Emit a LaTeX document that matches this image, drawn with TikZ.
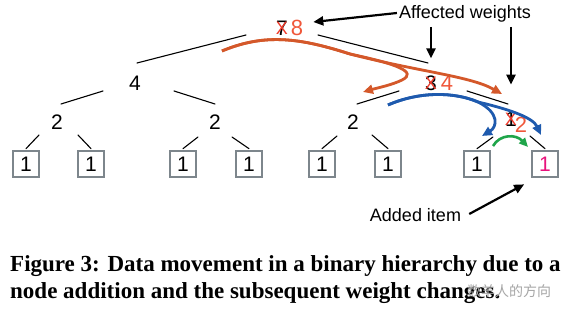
\documentclass[tikz,border=0pt]{standalone}
\usepackage{fontspec}
\setmainfont{Liberation Sans}
\newfontfamily\capfont{Liberation Serif}
\newfontfamily\cjkfont{Noto Sans CJK SC}
\usetikzlibrary{arrows.meta,calc}
\definecolor{newc}{HTML}{F0573A}
\definecolor{xred}{HTML}{F03A2A}
\definecolor{orangec}{HTML}{D4582A}
\definecolor{bluec}{HTML}{1E5AAE}
\definecolor{greenc}{HTML}{1FA54A}
\definecolor{pinkc}{HTML}{E8127C}
\definecolor{boxgray}{HTML}{7D868C}
\tikzset{
  dig/.style={font=\fontsize{21}{21}\selectfont, inner sep=0pt},
  newdig/.style={font=\fontsize{22}{22}\selectfont, inner sep=0pt, text=newc},
  xmark/.style={font=\fontsize{18}{18}\selectfont, inner sep=0pt, text=xred},
  leaf/.style={draw=boxgray, line width=2.2pt, minimum width=25.5pt, minimum height=26.5pt, inner sep=0pt, font=\fontsize{21}{21}\selectfont},
  edge/.style={line width=1.1pt, line cap=round},
  orarrow/.style={draw=orangec, line width=2.8pt, -{Triangle[length=10pt,width=9pt]}},
  blarrow/.style={draw=bluec, line width=2.8pt, -{Triangle[length=10pt,width=9pt]}},
  grarrow/.style={draw=greenc, line width=2.6pt, -{Triangle[length=9pt,width=8pt]}},
  bkarrow/.style={draw=black, line width=2.2pt, -{Triangle[length=10pt,width=9pt]}},
  lbl/.style={font=\fontsize{18}{18}\selectfont, inner sep=0pt},
  captext/.style={font=\capfont\bfseries\fontsize{23}{23}\selectfont, inner sep=0pt, anchor=base west}
}
\begin{document}
\begin{tikzpicture}[x=1pt,y=-1pt]
\useasboundingbox[fill=white] (0,0) rectangle (574,312);
% root
\node[dig] (r) at (282,28) {7};
\node[xmark] at (r) {X};
\node[newdig] (r2) at (297,28) {8};
% level 1
\node[dig] (a) at (135,83) {4};
\node[dig] (b) at (431,83) {3};
\node[xmark] at (b) {X};
\node[newdig] (b2) at (447,83) {4};
% level 2
\node[dig] (c1) at (57,122) {2};
\node[dig] (c2) at (215,122) {2};
\node[dig] (c3) at (353,122) {2};
\node[dig] (c4) at (511,119) {1};
\node[xmark] at (c4) {X};
\node[newdig] (c42) at (521,125) {2};
% leaves
\node[leaf] (l1) at (26,164) {1};
\node[leaf] (l2) at (91,164) {1};
\node[leaf] (l3) at (183,164) {1};
\node[leaf] (l4) at (249,164) {1};
\node[leaf] (l5) at (322,164) {1};
\node[leaf] (l6) at (388,164) {1};
\node[leaf] (l7) at (477,164) {1};
\node[leaf, text=pinkc] (l8) at (545,164) {1};
% edges
\draw[edge] ($(r)+(-36,7)$) -- ($(a)+(2,-20)$);
\draw[edge] ($(r)+(36,7)$) -- ($(b)+(-3,-20)$);
\draw[edge] ($(a)+(-32,8)$) -- ($(c1)+(4,-18)$);
\draw[edge] ($(a)+(39,8)$) -- ($(c2)+(0,-18)$);
\draw[edge] ($(b)+(-32,8)$) -- ($(c3)+(4,-18)$);
\draw[edge] ($(b)+(36,8)$) -- ($(c4)+(-3,-15)$);
\draw[edge] ($(c1)+(-18,13)$) -- ($(l1.north)+(0,-1)$);
\draw[edge] ($(c1)+(21,13)$) -- ($(l2.north)+(0,-1)$);
\draw[edge] ($(c2)+(-17,15)$) -- ($(l3.north)+(0,-1)$);
\draw[edge] ($(c2)+(17,15)$) -- ($(l4.north)+(0,-1)$);
\draw[edge] ($(c3)+(-16,14)$) -- ($(l5.north)+(0,-1)$);
\draw[edge] ($(c3)+(19,13)$) -- ($(l6.north)+(0,-1)$);
\draw[edge] ($(c4)+(-18,18)$) -- ($(l7.north)+(0,-1)$);
\draw[edge] ($(c4)+(19,17)$) -- ($(l8.north)+(0,-1)$);
% orange arrows
\coordinate (os) at (222,51);
\draw[orarrow] (os) .. controls (265,33) and (300,38) .. (350,54) .. controls (397,64) and (418,72) .. (402,80) .. controls (392,85) and (377,88) .. (363,92);
\draw[orarrow] (os) .. controls (265,33) and (300,38) .. (350,54) .. controls (420,72) and (470,76) .. (502,94);
% blue arrows
\coordinate (bs) at (388,105);
\draw[blarrow] (bs) .. controls (420,91) and (455,92) .. (478,102) .. controls (500,113) and (497,127) .. (482,136);
\draw[blarrow] (bs) .. controls (420,91) and (455,92) .. (478,102) .. controls (512,110) and (533,118) .. (541,135);
% green arrow
\draw[grarrow] (493,146) .. controls (500,134) and (516,134) .. (528,147);
% labels
\node[lbl] (aw) at (465,14) {Affected weights};
\draw[bkarrow] ($(aw.west)+(-2,-1)$) -- ($(r2.east)+(10,-6)$);
\draw[bkarrow] (431,27) -- ($(b.north)+(0,-17)$);
\draw[bkarrow] (511,27) -- ($(c4.north)+(0,-27)$);
\node[lbl] (ai) at (415.5,215) {Added item};
\draw[bkarrow] ($(ai.east)+(8,-1)$) -- ($(l8.south west)+(-7,6)$);
% caption
\node[captext] (cap1) at (10,272) {Figure 3: Data movement in a binary hierarchy due to a};
\node[captext] (cap2) at (10,299) {node addition and the subsequent weight changes.};
\node[font=\cjkfont\fontsize{14}{14}\selectfont, text=gray!70, inner sep=0pt, anchor=west] (wm) at (467,291) {数羊人的方向};
\end{tikzpicture}
\end{document}
